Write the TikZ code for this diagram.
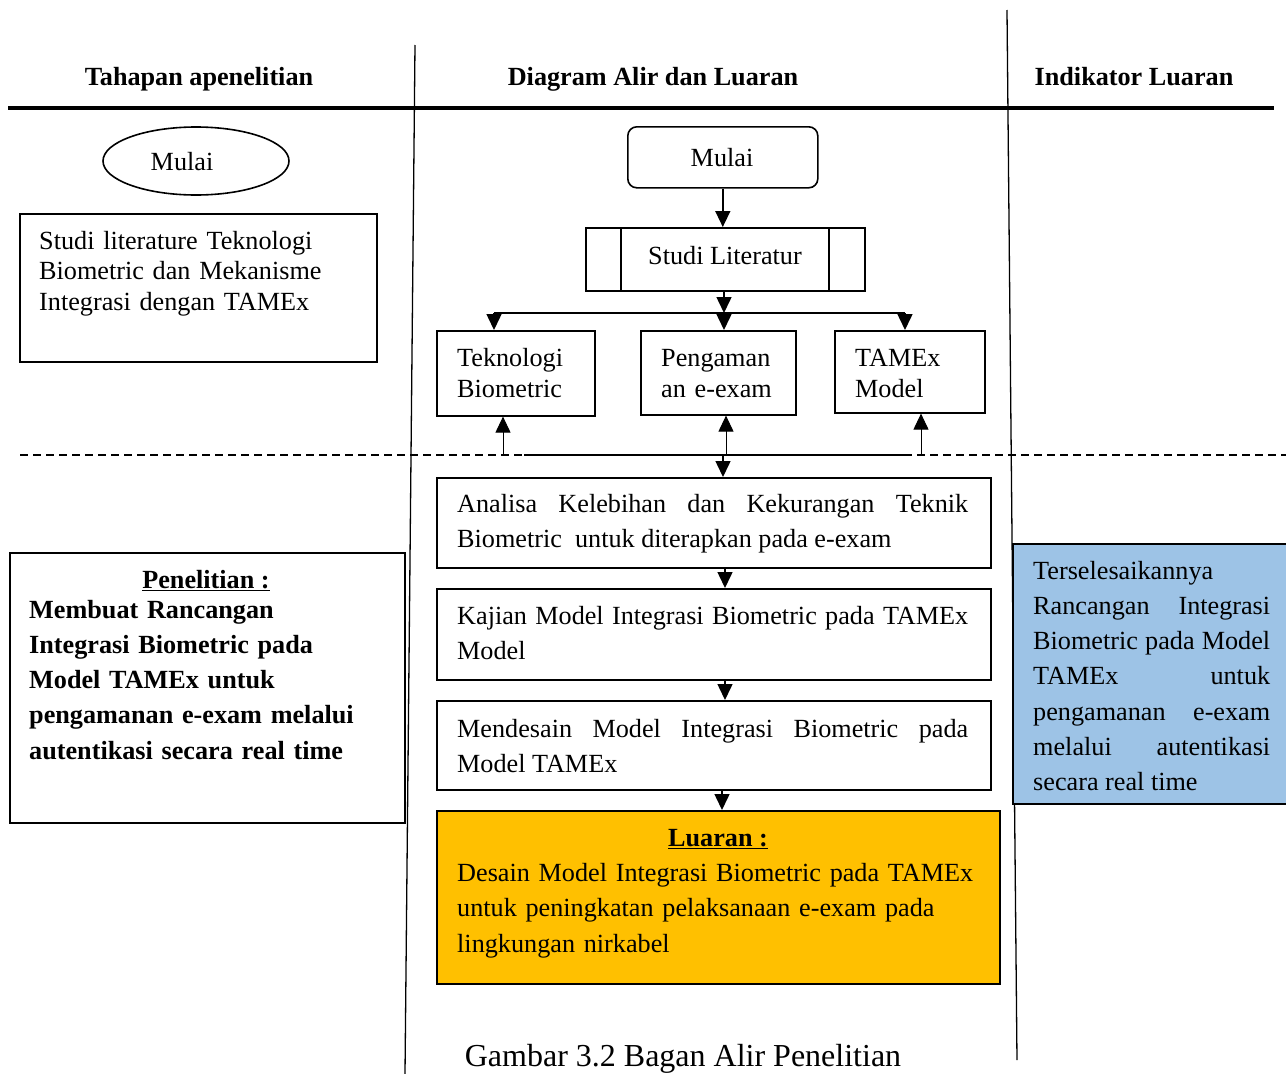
\documentclass[tikz,border=0pt]{standalone}
\usepackage{fontspec}
\setmainfont{Liberation Serif}
\usetikzlibrary{arrows.meta,shapes.geometric}
\newcommand\myfs[1]{\fontsize{26.2}{#1}\selectfont\hyphenpenalty=10000\exhyphenpenalty=10000\emergencystretch=20pt}
\definecolor{luaranfill}{HTML}{FFC000}
\definecolor{bluefill}{HTML}{9DC3E6}
\begin{document}
\begin{tikzpicture}[x=1pt,y=-1pt,
  box/.style={draw,line width=1.6pt,inner sep=0pt,anchor=north west},
  arr/.style={line width=1.5pt,-{Triangle[length=16pt,width=15pt]}},
  txt/.style={inner sep=0pt,anchor=base west,align=left},
  jtxt/.style={inner sep=0pt,anchor=base west,align=justify},
  ctxt/.style={inner sep=0pt,anchor=base},
  hdr/.style={inner sep=0pt,anchor=base,font=\myfs{30}\bfseries},
  colline/.style={line width=1.3pt},
  dline/.style={line width=1.5pt,dash pattern=on 8pt off 5pt}]
\useasboundingbox (0,0) rectangle (1286,1074);
\fill[white] (0,0) rectangle (1286,1074);

% header
\node[hdr] (h1) at (199,85) {Tahapan apenelitian};
\node[hdr] (h2) at (653,85) {Diagram Alir dan Luaran};
\node[hdr] (h3) at (1134,85) {Indikator Luaran};
\draw[line width=3.5pt] (8,108) -- (1274,108);
\draw[colline] (415,45) -- (405,1074);
\draw[colline] (1007,10) -- (1017,1060);

% dashed separator
\draw[dline] (20,455) -- (1286,455);

% left column
\node[draw,ellipse,line width=1.6pt,minimum width=186pt,minimum height=68pt,inner sep=0pt] (m1) at (196,161) {};
\node[ctxt,font=\myfs{30}] (m1t) at (182,170) {Mulai};
\node[box,minimum width=357pt,minimum height=148pt] (lit1) at (19,213) {};
\node[txt,text width=330pt,font=\myfs{30.5}] (lit1t) at (39,249) {Studi literature Teknologi\\Biometric dan Mekanisme\\Integrasi dengan TAMEx};
\node[box,minimum width=395pt,minimum height=270pt] (pen) at (9,552) {};
\node[ctxt,font=\myfs{30}\bfseries] (pent) at (206,588) {\underline{Penelitian :}};
\node[txt,text width=372pt,font=\myfs{35.3}\bfseries] (penb) at (29,618) {Membuat Rancangan\\Integrasi Biometric pada\\Model TAMEx untuk\\pengamanan e-exam melalui\\autentikasi secara real time};

% middle column
\node[box,rounded corners=9pt,minimum width=190pt,minimum height=61pt] (m2) at (627,126) {};
\node[ctxt,font=\myfs{30}] (m2t) at (722,166) {Mulai};
\node[box,minimum width=279pt,minimum height=63pt] (studi) at (585,227) {};
\draw[line width=1.6pt] (621,227) -- (621,290) (829,227) -- (829,290);
\node[ctxt,font=\myfs{30}] (studit) at (725,264) {Studi Literatur};

\node[box,minimum width=158pt,minimum height=85pt] (tek) at (436,330) {};
\node[txt,text width=140pt,font=\myfs{31}] (tekt) at (457,366) {Teknologi\\Biometric};
\node[box,minimum width=155pt,minimum height=84pt] (peng) at (640,330) {};
\node[txt,text width=140pt,font=\myfs{31}] (pengt) at (661,366) {Pengaman\\an e-exam};
\node[box,minimum width=150pt,minimum height=82pt] (tam) at (834,330) {};
\node[txt,text width=130pt,font=\myfs{31}] (tamt) at (855,366) {TAMEx\\Model};

\node[box,minimum width=554pt,minimum height=90pt] (ana) at (436,477) {};
\node[jtxt,text width=511pt,font=\myfs{35}] (anat) at (457,512) {Analisa Kelebihan dan Kekurangan Teknik\linebreak Biometric\ \ untuk diterapkan pada e-exam};
\node[box,minimum width=554pt,minimum height=91pt] (kaj) at (436,588) {};
\node[jtxt,text width=511pt,font=\myfs{35}] (kajt) at (457,624) {Kajian Model Integrasi Biometric pada TAMEx\linebreak Model};
\node[box,minimum width=554pt,minimum height=89pt] (des) at (436,700) {};
\node[jtxt,text width=511pt,font=\myfs{35}] (dest) at (457,737) {Mendesain Model Integrasi Biometric pada\linebreak Model TAMEx};
\node[box,fill=luaranfill,minimum width=563pt,minimum height=173pt] (lua) at (436,810) {};
\node[ctxt,font=\myfs{30}\bfseries] (luat) at (718,846) {\underline{Luaran :}};
\node[txt,text width=530pt,font=\myfs{35.5}] (luab) at (457,881) {Desain Model Integrasi Biometric pada TAMEx\\untuk peningkatan pelaksanaan e-exam pada\\lingkungan nirkabel};

\node[ctxt,font=\fontsize{32}{36}\selectfont] (cap) at (683,1066) {Gambar 3.2 Bagan Alir Penelitian};

% right column
\node[box,fill=bluefill,minimum width=276pt,minimum height=260pt] (ind) at (1012,543) {};
\node[jtxt,text width=237pt,font=\myfs{35.3}] (indt) at (1033,579) {Terselesaikannya\linebreak Rancangan Integrasi\linebreak Biometric pada Model\linebreak TAMEx untuk\linebreak pengamanan e-exam\linebreak melalui autentikasi\linebreak secara real time};

% connectors
\draw[arr] (m2.south) -- (m2.south |- studi.north);
\coordinate (bc) at (724,313);
\coordinate (bl) at (494,313);
\coordinate (brr) at (905,313);
\draw[arr] (studi.south -| bc) -- (bc);
\draw[line width=1.6pt] (bl) -- (brr);
\draw[arr] (bl) -- (bl |- tek.north);
\draw[arr] (bc) -- (bc |- peng.north);
\draw[arr] (brr) -- (brr |- tam.north);

\coordinate (sl) at (524,455);
\coordinate (sr) at (910,455);
\draw[line width=1.8pt] (sl) -- (sr);
\coordinate (u1) at (503,455);
\coordinate (u2) at (726,455);
\coordinate (u3) at (921,455);
\draw[arr,line width=1pt] (u1) -- (u1 |- tek.south);
\draw[arr,line width=1pt] (u2) -- (u2 |- peng.south);
\draw[arr,line width=1pt] (u3) -- (u3 |- tam.south);
\coordinate (dn) at (723,455);
\draw[arr] (dn) -- (dn |- ana.north);
\draw[arr] (ana.south -| 725,0) -- (kaj.north -| 725,0);
\draw[arr] (kaj.south -| 725,0) -- (des.north -| 725,0);
\draw[arr] (des.south -| 722,0) -- (lua.north -| 722,0);
\end{tikzpicture}
\end{document}
